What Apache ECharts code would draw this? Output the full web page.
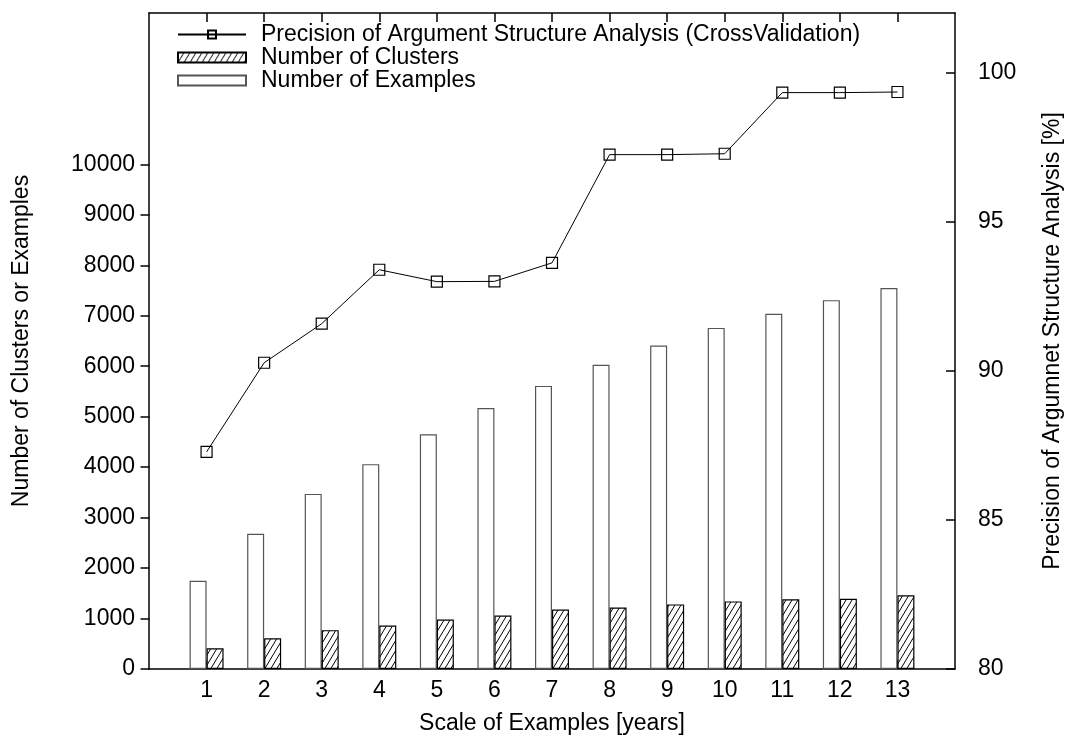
<!DOCTYPE html>
<html>
<head>
<meta charset="utf-8">
<script src="https://cdn.jsdelivr.net/npm/echarts@6/dist/echarts.min.js"></script>
<style>
html,body{margin:0;padding:0;background:#fff;}
#chart{width:1068px;height:741px;}
</style>
</head>
<body>
<div id="chart"></div>
<script>
const categories = [1, 2, 3, 4, 5, 6, 7, 8, 9, 10, 11, 12, 13];
const examples = [1750, 2680, 3470, 4060, 4650, 5170, 5610, 6030, 6410, 6760, 7040, 7310, 7550];
const clusters = [410, 610, 770, 860, 980, 1060, 1180, 1220, 1280, 1340, 1380, 1390, 1460];
const precision = [87.28, 90.27, 91.58, 93.39, 92.99, 93.0, 93.62, 97.25, 97.25, 97.28, 99.33, 99.33, 99.35];
const leftTicks = [0, 1000, 2000, 3000, 4000, 5000, 6000, 7000, 8000, 9000, 10000];
const rightTicks = [80, 85, 90, 95, 100];

const FONT = 'Liberation Sans';
const FS = 23;

// hatch pattern
const tile = document.createElement('canvas');
tile.width = 6; tile.height = 10;
const g = tile.getContext('2d');
g.fillStyle = '#fff';
g.fillRect(0, 0, 6, 10);
g.strokeStyle = '#000';
g.lineWidth = 1;
g.beginPath();
for (let k = -1; k <= 1; k++) {
  g.moveTo(k * 6, 10);
  g.lineTo(k * 6 + 6, 0);
}
g.stroke();

const chart = echarts.init(document.getElementById('chart'), null, {renderer: 'canvas'});

const plain = v => String(v);
const lineStyle = {color: '#000', width: 1.5};
const TL = 9;
const GRID = {left: 149, right: 113, top: 13, bottom: 72};
const X_MIN = 0, X_MAX = 14;
const plotWidth = 1068 - GRID.left - GRID.right;
const tickDx = TL * (X_MAX - X_MIN) / plotWidth;   // tick length in x-axis units

const xCommon = {
  type: 'value', min: X_MIN, max: X_MAX, interval: 1,
  axisLine: {show: true, onZero: false, lineStyle: lineStyle},
  splitLine: {show: false}
};

chart.setOption({
  animation: false,
  backgroundColor: '#fff',
  textStyle: {fontFamily: FONT, color: '#000'},
  grid: Object.assign({containLabel: false, outerBoundsMode: 'none'}, GRID),
  legend: {
    orient: 'vertical', left: 177, top: 23, padding: 0,
    itemWidth: 68, itemHeight: 10, itemGap: 0,
    data: [
      {name: 'Precision of Argument Structure Analysis (CrossValidation)'},
      {name: 'Number of Clusters', icon: 'rect'},
      {name: 'Number of Examples', icon: 'rect'}
    ],
    textStyle: {fontFamily: FONT, fontSize: FS, color: '#000', lineHeight: 21, padding: [0, 0, 0, 10]}
  },
  xAxis: [
    Object.assign({}, xCommon, {
      position: 'bottom',
      name: 'Scale of Examples [years]', nameLocation: 'middle', nameGap: 43,
      nameTextStyle: {fontFamily: FONT, fontSize: FS, color: '#000'},
      axisTick: {show: true, inside: true, length: TL, customValues: categories, lineStyle: lineStyle},
      axisLabel: {show: true, customValues: categories, formatter: plain, margin: 10, fontFamily: FONT, fontSize: FS, color: '#000'}
    }),
    Object.assign({}, xCommon, {
      position: 'top',
      axisTick: {show: true, inside: true, length: TL, customValues: categories, lineStyle: lineStyle},
      axisLabel: {show: false}
    })
  ],
  yAxis: [
    {
      type: 'value', position: 'left', min: 0, max: 13000, interval: 1000,
      name: 'Number of Clusters or Examples', nameLocation: 'middle', nameGap: 116, nameRotate: 90,
      nameTextStyle: {fontFamily: FONT, fontSize: FS, color: '#000'},
      axisLine: {show: true, onZero: false, lineStyle: lineStyle},
      axisTick: {show: false},
      axisLabel: {show: true, customValues: leftTicks, formatter: plain, margin: 14, fontFamily: FONT, fontSize: FS, color: '#000'},
      splitLine: {show: false}
    },
    {
      type: 'value', position: 'right', min: 80, max: 102, interval: 5,
      name: 'Precision of Argumnet Structure Analysis [%]', nameLocation: 'middle', nameGap: 86, nameRotate: 90,
      nameTextStyle: {fontFamily: FONT, fontSize: FS, color: '#000'},
      axisLine: {show: true, onZero: false, lineStyle: lineStyle},
      axisTick: {show: true, inside: true, length: TL, customValues: rightTicks, lineStyle: lineStyle},
      axisLabel: {show: true, customValues: rightTicks, formatter: plain, margin: 23, fontFamily: FONT, fontSize: FS, color: '#000'},
      splitLine: {show: false}
    }
  ],
  series: [
    {
      name: 'Number of Examples', type: 'bar', xAxisIndex: 0, yAxisIndex: 0,
      barWidth: 17, barGap: '0%',
      itemStyle: {color: '#fff', borderColor: '#555', borderWidth: 1.2},
      data: categories.map((c, i) => [c, examples[i]]),
      markLine: {
        silent: true, symbol: ['none', 'none'], animation: false,
        label: {show: false},
        lineStyle: {color: '#000', width: 1.5, type: 'solid'},
        emphasis: {disabled: true},
        data: leftTicks.map(v => [{coord: [X_MIN, v]}, {coord: [X_MIN + tickDx, v]}])
      }
    },
    {
      name: 'Number of Clusters', type: 'bar', xAxisIndex: 0, yAxisIndex: 0,
      barWidth: 17, barGap: '0%',
      itemStyle: {color: {image: tile, repeat: 'repeat'}, borderColor: '#000', borderWidth: 1.2},
      data: categories.map((c, i) => [c, clusters[i]])
    },
    {
      name: 'Precision of Argument Structure Analysis (CrossValidation)', type: 'line',
      xAxisIndex: 0, yAxisIndex: 1,
      symbol: 'rect', symbolSize: 11,
      lineStyle: {color: '#000', width: 1},
      itemStyle: {color: 'rgba(255,255,255,0)', borderColor: '#000', borderWidth: 1.2},
      data: categories.map((c, i) => [c, precision[i]]),
      z: 5
    }
  ]
});
</script>
</body>
</html>
